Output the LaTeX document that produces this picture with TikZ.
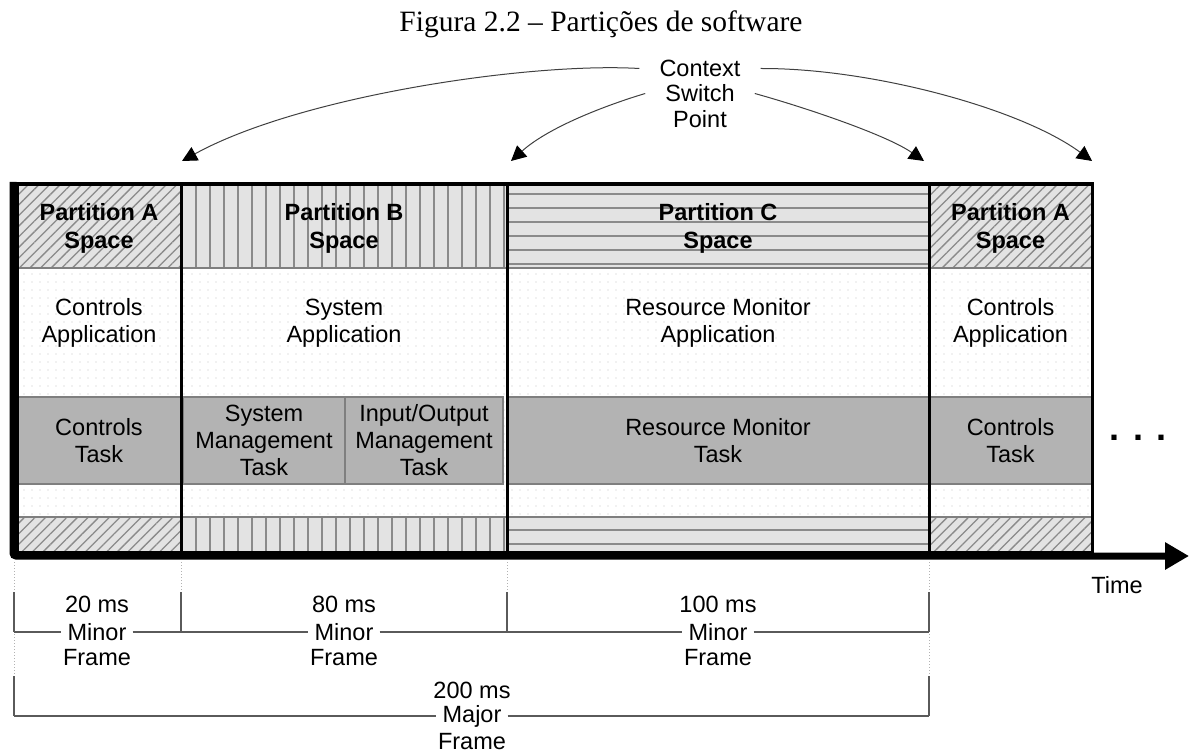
\documentclass[tikz,border=0pt]{standalone}
\usepackage{fontspec}
\setmainfont{Liberation Sans}
\newfontfamily\capfont{Liberation Serif}
\usetikzlibrary{patterns.meta,arrows.meta,calc}

\definecolor{hatchbg}{HTML}{E3E3E3}
\definecolor{hatchln}{HTML}{8A8A8A}
\definecolor{taskbg}{HTML}{B3B3B3}
\definecolor{rowln}{HTML}{7F7F7F}
\definecolor{dotc}{HTML}{C4C4C4}
\definecolor{brk}{HTML}{5A5A5A}
\definecolor{curve}{HTML}{404040}

\tikzset{
  diaghatch/.style={pattern={Lines[angle=45,distance=7.5pt,line width=1.3pt]},pattern color=hatchln},
  verthatch/.style={pattern={Lines[angle=90,distance=14pt,line width=1.6pt]},pattern color=hatchln},
  horizhatch/.style={pattern={Lines[angle=0,distance=14pt,line width=1.6pt]},pattern color=hatchln},
  dotbg/.style={pattern={Dots[distance=8pt,radius=0.6pt]},pattern color=dotc},
  rowsep/.style={draw=rowln,line width=1.2pt},
  frameline/.style={draw=black,line width=3pt},
  lbl/.style={font=\fontsize{23.5}{27}\selectfont,align=center,inner sep=0pt},
  hdr/.style={font=\fontsize{23.5}{28}\selectfont\bfseries,align=center,inner sep=0pt},
  taskbox/.style={fill=taskbg,draw=rowln,line width=1.2pt,font=\fontsize{23.5}{27}\selectfont,align=center,inner sep=0pt},
  word/.style={font=\fontsize{23.5}{27}\selectfont,inner sep=0pt},
  gapword/.style={word,fill=white,inner xsep=6pt},
  bracket/.style={draw=brk,line width=1.3pt},
  guide/.style={draw=gray!60,dotted,line width=1pt},
  ctxarrow/.style={draw=curve,line width=1pt,-{Triangle[length=15pt,width=15pt,color=black,fill=black]}},
  axis/.style={draw=black,line width=7pt,rounded corners=3pt,-{Triangle[length=24pt,width=26pt]}}
}

\begin{document}
\begin{tikzpicture}[x=1pt,y=-1pt]
\useasboundingbox (0,0) rectangle (1190,754);

% caption
\node[font=\capfont\fontsize{29.5}{33}\selectfont] (title) at (601,24) {Figura 2.2 – Partições de software};

% ---------- partition A (first) ----------
\fill[white] (17,184) rectangle (181,552);
\fill[dotbg] (17,268) rectangle (181,517);
\fill[hatchbg] (17,184) rectangle (181,268);
\fill[diaghatch] (17,184) rectangle (181,268);
\fill[hatchbg] (17,517) rectangle (181,552);
\fill[diaghatch] (17,517) rectangle (181,552);
\draw[rowsep] (17,268) -- (181,268) (17,517) -- (181,517);

% ---------- partition B ----------
\fill[white] (181,184) rectangle (507,552);
\fill[dotbg] (181,268) rectangle (507,517);
\fill[hatchbg] (181,184) rectangle (507,268);
\fill[verthatch] (181,184) rectangle (507,268);
\fill[hatchbg] (181,517) rectangle (507,552);
\fill[verthatch] (181,517) rectangle (507,552);
\draw[rowsep] (181,268) -- (507,268) (181,517) -- (507,517);

% ---------- partition C ----------
\fill[white] (507,184) rectangle (929,552);
\fill[dotbg] (507,268) rectangle (929,517);
\fill[hatchbg] (507,184) rectangle (929,268);
\fill[horizhatch] (507,184) rectangle (929,268);
\fill[hatchbg] (507,517) rectangle (929,552);
\fill[horizhatch] (507,517) rectangle (929,552);
\draw[rowsep] (507,268) -- (929,268) (507,517) -- (929,517);

% ---------- partition A (second) ----------
\fill[white] (929,184) rectangle (1092,552);
\fill[dotbg] (929,268) rectangle (1092,517);
\fill[hatchbg] (929,184) rectangle (1092,268);
\fill[diaghatch] (929,184) rectangle (1092,268);
\fill[hatchbg] (929,517) rectangle (1092,552);
\fill[diaghatch] (929,517) rectangle (1092,552);
\draw[rowsep] (929,268) -- (1092,268) (929,517) -- (1092,517);

% task row
\node[taskbox,minimum width=164pt,minimum height=87pt] (tA1) at (99,440.5) {Controls\\Task};
\node[taskbox,minimum width=162pt,minimum height=87pt] (tSys) at (264,440.5) {System\\Management\\Task};
\node[taskbox,minimum width=158pt,minimum height=87pt] (tIO) at (424,440.5) {Input/Output\\Management\\Task};
\node[taskbox,minimum width=422pt,minimum height=87pt] (tRes) at (718,440.5) {Resource Monitor\\Task};
\node[taskbox,minimum width=163pt,minimum height=87pt] (tA2) at (1010.5,440.5) {Controls\\Task};

% partition outlines
\draw[frameline] (17,184) rectangle (181,552);
\draw[frameline] (181,184) rectangle (507,552);
\draw[frameline] (507,184) rectangle (929,552);
\draw[frameline] (929,184) rectangle (1092,552);

% headers
\node[hdr] (hA1) at (99,228) {Partition A\\Space};
\node[hdr] (hB) at (344,228) {Partition B\\Space};
\node[hdr] (hC) at (718,228) {Partition C\\Space};
\node[hdr] (hA2) at (1010.5,228) {Partition A\\Space};

% applications
\node[lbl] (aA1) at (99,323) {Controls\\Application};
\node[lbl] (aB) at (344,323) {System\\Application};
\node[lbl] (aC) at (718,323) {Resource Monitor\\Application};
\node[lbl] (aA2) at (1010.5,323) {Controls\\Application};

\node[font=\fontsize{36}{36}\selectfont\bfseries,inner sep=0pt] (more) at (1138,438) {. . .};

% time axis
\coordinate (axtop) at (13,182);
\coordinate (origin) at (13,556);
\coordinate (axend) at (1189,556);
\draw[axis] (axtop) -- (origin) -- (axend);
\node[word] (time) at (1117,585) {Time};

% context switch point
\node[word,inner xsep=20pt] (cA) at (700,68.5) {Context};
\node[word,inner xsep=20pt] (cB) at (700,93.5) {Switch};
\node[word] (cC) at (700,119) {Point};
\coordinate (sw1) at (182,161);
\coordinate (sw2) at (511,161);
\coordinate (sw3) at (924,161);
\coordinate (sw4) at (1092,161);
\draw[ctxarrow] (cA.west) .. controls (530,62) and (300,96) .. (sw1);
\draw[ctxarrow] (cB.west) .. controls (610,104) and (550,126) .. (sw2);
\draw[ctxarrow] (cB.east) .. controls (800,106) and (885,134) .. (sw3);
\draw[ctxarrow] (cA.east) .. controls (870,68) and (1020,108) .. (sw4);

% guide lines below the axis
\coordinate (g0a) at (14,562);   \coordinate (g0b) at (14,676);
\coordinate (g1a) at (181,562);  \coordinate (g1b) at (181,592);
\coordinate (g2a) at (507,562);  \coordinate (g2b) at (507,592);
\coordinate (g3a) at (929,562);  \coordinate (g3b) at (929,676);
\draw[guide] (g0a) -- (g0b);
\draw[guide] (g1a) -- (g1b);
\draw[guide] (g2a) -- (g2b);
\draw[guide] (g3a) -- (g3b);

% minor frames
\coordinate (m0t) at (14,592);  \coordinate (m0b) at (14,632);
\coordinate (m1t) at (181,592); \coordinate (m1b) at (181,632);
\coordinate (m2t) at (507,592); \coordinate (m2b) at (507,632);
\coordinate (m3t) at (929,592); \coordinate (m3b) at (929,632);
\draw[bracket] (m0t) -- (m0b);
\draw[bracket] (m1t) -- (m1b);
\draw[bracket] (m2t) -- (m2b);
\draw[bracket] (m3t) -- (m3b);

\node[word] (f1ms) at (97,604) {20 ms};
\node[gapword] (f1) at (97,632) {Minor};
\node[word] (f1fr) at (97,658) {Frame};
\node[word] (f2ms) at (344,604) {80 ms};
\node[gapword] (f2) at (344,632) {Minor};
\node[word] (f2fr) at (344,658) {Frame};
\node[word] (f3ms) at (718,604) {100 ms};
\node[gapword] (f3) at (718,632) {Minor};
\node[word] (f3fr) at (718,658) {Frame};
\draw[bracket] (m0b) -- (f1.west) (f1.east) -- (m1b);
\draw[bracket] (m1b) -- (f2.west) (f2.east) -- (m2b);
\draw[bracket] (m2b) -- (f3.west) (f3.east) -- (m3b);

% major frame
\coordinate (j0t) at (14,676);  \coordinate (j0b) at (14,716);
\coordinate (j1t) at (929,676); \coordinate (j1b) at (929,716);
\draw[bracket] (j0t) -- (j0b);
\draw[bracket] (j1t) -- (j1b);
\node[word] (jms) at (472,690) {200 ms};
\node[gapword] (jmaj) at (472,716) {Major};
\node[word] (jfr) at (472,742) {Frame};
\draw[bracket] (j0b) -- (jmaj.west) (jmaj.east) -- (j1b);
\end{tikzpicture}
\end{document}
